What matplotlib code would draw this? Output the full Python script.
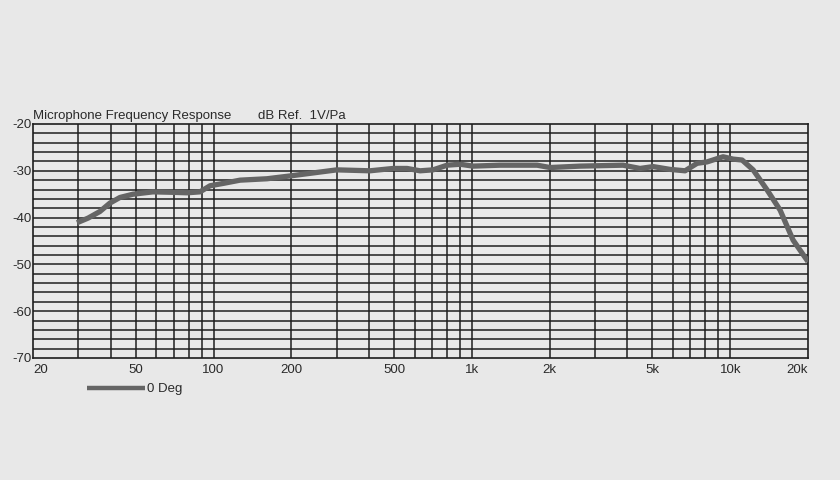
import numpy as np
import matplotlib
matplotlib.use("Agg")
import matplotlib.pyplot as plt
from matplotlib.ticker import FixedLocator, NullLocator

plt.rcParams['font.family'] = ['Liberation Sans', 'DejaVu Sans']

# frequency response (Hz, dB re 1V/Pa)
freq_hz = [29.6, 32.7, 36.3, 39.7, 43.4, 48.8, 58.3, 69.7, 79, 88.6, 96.9,
           108.8, 126.6, 161, 197.6, 300, 403, 495, 561, 630, 707, 802, 900,
           1010, 1285, 1788, 2007, 2623, 3846, 4477, 5031, 5848, 6686, 7444,
           8132, 9380, 10258, 11116, 12262, 13893, 15598, 17506, 20000]
level_db = [-41.1, -40.1, -38.7, -36.9, -35.7, -35.0, -34.5, -34.6, -34.7,
            -34.5, -33.2, -32.7, -32.0, -31.7, -31.1, -29.8, -30.0, -29.5,
            -29.5, -30.0, -29.8, -28.8, -28.6, -29.0, -28.8, -28.8, -29.3,
            -29.0, -28.8, -29.5, -29.1, -29.7, -30.0, -28.4, -28.1, -27.0,
            -27.5, -27.7, -29.8, -34.1, -38.4, -44.8, -49.4]

x_ticks = [20, 50, 100, 200, 500, 1000, 2000, 5000, 10000, 20000]
x_labels = ["20", "50", "100", "200", "500", "1k", "2k", "5k", "10k", "20k"]
y_ticks = [-70, -60, -50, -40, -30, -20]

BG = "#e8e8e8"
GRID = "#1e1e1e"
TEXT = "#2a2a2a"
FS = 9.5

fig = plt.figure(figsize=(8.4, 4.8), dpi=100, facecolor=BG)
ax = fig.add_axes([33 / 840, 1 - 358 / 480, 775 / 840, 234 / 480])
ax.set_facecolor(BG)

ax.set_xscale("log")
ax.set_xlim(20, 20000)
ax.set_ylim(-70, -20)

# grid: every 1..9 multiple on x, every 2 dB on y
grid_x = [m * 10 ** d for d in range(1, 5) for m in range(1, 10)]
grid_x = [g for g in grid_x if 20 < g < 20000]
for g in grid_x:
    ax.axvline(g, color=GRID, lw=1.1, zorder=1)
for g in np.arange(-68, -20, 2):
    ax.axhline(g, color=GRID, lw=1.1, zorder=1)

ax.plot(freq_hz, level_db, color="#656565", lw=3.8, solid_capstyle="butt",
        solid_joinstyle="round", zorder=3, label="0 Deg")

for s in ax.spines.values():
    s.set_color(GRID)
    s.set_linewidth(1.2)

ax.xaxis.set_major_locator(FixedLocator(x_ticks))
ax.xaxis.set_minor_locator(NullLocator())
ax.set_xticklabels(x_labels)
ax.set_yticks(y_ticks)
ax.set_yticklabels([str(v) for v in y_ticks])
ax.tick_params(axis="both", length=0, labelsize=FS, colors=TEXT)
ax.tick_params(axis="x", pad=4)
ax.tick_params(axis="y", pad=1)
xl = ax.get_xticklabels()
xl[0].set_horizontalalignment("left")
xl[-1].set_horizontalalignment("right")

fig.text(33 / 840, 1 - 116 / 480, "Microphone Frequency Response",
         fontsize=FS, color=TEXT, va="center", ha="left")
fig.text(258 / 840, 1 - 116 / 480, "dB Ref.  1V/Pa",
         fontsize=FS, color=TEXT, va="center", ha="left")

leg = ax.legend(loc="center left", bbox_to_anchor=(54 / 775, -31 / 234),
                frameon=False, fontsize=FS, handlelength=4.4,
                handletextpad=0.15, borderpad=0, borderaxespad=0,
                labelcolor=TEXT)
leg.get_lines()[0].set_linewidth(3.2)

fig.savefig("out.png", dpi=100, facecolor=BG)
